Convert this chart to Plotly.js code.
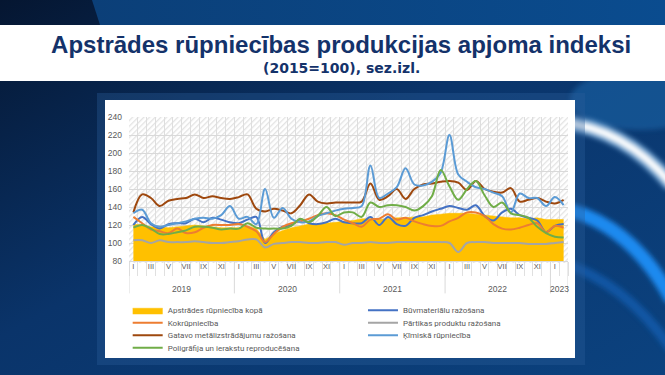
<!DOCTYPE html>
<html>
<head>
<meta charset="utf-8">
<script src="https://cdn.plot.ly/plotly-3.0.1.min.js"></script>
<style>
html, body { margin: 0; padding: 0; width: 665px; height: 375px; overflow: hidden; }
#bg { position: absolute; left: 0; top: 0; }
#chart { position: absolute; left: 0; top: 0; width: 665px; height: 375px; }
</style>
</head>
<body>
<svg id="bg" width="665" height="375" xmlns="http://www.w3.org/2000/svg">
	<defs>
		<linearGradient id="sky" x1="0" y1="0" x2="1" y2="1">
			<stop offset="0" stop-color="#051631"/>
			<stop offset="0.45" stop-color="#0a346a"/>
			<stop offset="1" stop-color="#0b427f"/>
		</linearGradient>
		<linearGradient id="topband" x1="0" y1="0" x2="1" y2="0">
			<stop offset="0" stop-color="#0b3f78"/>
			<stop offset="1" stop-color="#0a4c8f"/>
		</linearGradient>
		<filter id="glow" x="-30%" y="-30%" width="160%" height="160%">
			<feGaussianBlur stdDeviation="2.5"/>
		</filter>
		<pattern id="hatch" width="4" height="4" patternUnits="userSpaceOnUse" patternTransform="rotate(45)">
			<rect width="4" height="4" fill="#ffffff"/>
			<rect width="1.3" height="4" fill="#e3e3e3"/>
		</pattern>
	</defs>
	<rect width="665" height="375" fill="url(#sky)"/>
	<polygon points="92,0 665,0 665,25 100,25" fill="url(#topband)"/>
	<ellipse cx="640" cy="100" rx="70" ry="30" fill="#1f68ab" opacity="0.55" filter="url(#glow)"/>
	<path d="M 560 122 Q 625 128 672 185" stroke="#9fd3ff" stroke-width="16" fill="none" opacity="0.6" filter="url(#glow)"/>
	<path d="M 560 122 Q 625 128 672 185" stroke="#ffffff" stroke-width="8" fill="none" filter="url(#glow)"/>
	<path d="M 560 208 Q 630 222 672 300" stroke="#1e8af0" stroke-width="14" fill="none" filter="url(#glow)"/>
	<path d="M 560 262 Q 625 282 672 350" stroke="#1766c0" stroke-width="10" fill="none" opacity="0.6" filter="url(#glow)"/>
	<rect x="0" y="25" width="665" height="56" fill="#ffffff"/>
	<rect x="97" y="93" width="488" height="272" fill="#2a5f9a" opacity="0.35"/>
	<rect x="105" y="100" width="470" height="258" fill="#ffffff"/>
	<rect x="129" y="117" width="439" height="146" fill="url(#hatch)"/>
</svg>
<div id="chart"></div>
<script>
var years = ["2019", "2020", "2021", "2022", "2023"];
var monthNames = ["I", "II", "III", "IV", "V", "VI", "VII", "VIII", "IX", "X", "XI", "XII"];
var monthsInYear = [12, 12, 12, 12, 2];

var seriesNames = [
	"Apstrādes rūpniecība kopā",
	"Būvmateriālu ražošana",
	"Kokrūpniecība",
	"Pārtikas produktu ražošana",
	"Gatavo metālizstrādājumu ražošana",
	"Ķīmiskā rūpniecība",
	"Poligrāfija un ierakstu reproducēšana",
];

var kopa = [121, 120, 118, 118, 117, 118, 119, 120, 119, 118, 117, 117,
	117, 119, 116, 104, 110, 114, 117, 119, 121, 121, 122, 123,
	124, 125, 127, 127, 126, 127, 128, 128, 129, 129, 131, 132,
	133, 133, 133, 132, 131, 130, 129, 128, 128, 127, 128, 126,
	126, 126];
var buvmat = [120, 129, 121, 116, 121, 122, 122, 127, 123, 128, 126, 123,
	122, 126, 129, 100, 112, 118, 120, 126, 122, 121, 123, 127,
	123, 122, 122, 129, 120, 129, 121, 119, 128, 131, 135, 138,
	141, 139, 137, 142, 130, 125, 134, 138, 131, 128, 125, 112,
	119, 121];
var koks = [129, 122, 115, 113, 111, 116, 111, 112, 117, 120, 120, 120,
	121, 118, 113, 101, 110, 118, 122, 124, 127, 131, 133, 131,
	126, 122, 118, 126, 127, 132, 126, 128, 124, 121, 119, 119,
	124, 128, 134, 134, 130, 121, 116, 115, 117, 120, 122, 112,
	119, 117];
var partikas = [103, 103, 100, 103, 101, 101, 101, 102, 101, 100, 100, 101,
	102, 104, 104, 95, 99, 100, 101, 101, 100, 100, 101, 101,
	98, 100, 100, 101, 100, 100, 101, 101, 101, 101, 101, 101,
	100, 90, 100, 101, 101, 100, 100, 100, 100, 99, 99, 99,
	100, 101];
var metal = [134, 154, 150, 141, 147, 149, 150, 154, 150, 152, 150, 149,
	151, 154, 138, 135, 138, 136, 133, 142, 154, 146, 144, 145,
	145, 145, 146, 166, 148, 152, 160, 149, 160, 165, 166, 168,
	169, 167, 159, 169, 160, 157, 156, 161, 146, 148, 150, 146,
	144, 148];
var kimiska = [133, 137, 122, 118, 120, 122, 124, 127, 128, 127, 131, 141,
	127, 129, 121, 160, 128, 139, 127, 123, 124, 130, 133, 136,
	138, 139, 141, 186, 150, 155, 162, 183, 165, 164, 168, 178,
	220, 176, 168, 162, 160, 156, 152, 134, 155, 150, 150, 141,
	151, 142];
var poligr = [117, 120, 116, 110, 110, 112, 114, 118, 118, 117, 115, 116,
	116, 122, 117, 116, 116, 116, 119, 127, 123, 130, 140, 130,
	134, 134, 129, 145, 140, 142, 142, 140, 136, 141, 152, 181,
	163, 148, 160, 169, 153, 140, 145, 133, 131, 128, 118, 111,
	107, 106];

// category labels "2019 I" ... and the roman numerals shown under the axis
var months = [];
var monthText = [];
years.forEach(function (yr, k) {
	for (var m = 0; m < monthsInYear[k]; m++) {
		months.push(yr + " " + monthNames[m]);
		monthText.push(m % 2 === 0 ? monthNames[m] : "");
	}
});

var colors = ["#FFC000", "#4472C4", "#ED7D31", "#A5A5A5", "#9E480E", "#5B9BD5", "#70AD47"];
var values = [kopa, buvmat, koks, partikas, metal, kimiska, poligr];
var legendIds = ["legend", "legend2", "legend3", "legend4", "legend5", "legend6", "legend7"];

var data = values.map(function (vals, k) {
	var trace = {
		x: months,
		y: vals,
		name: seriesNames[k],
		type: "scatter",
		mode: "lines",
		legend: legendIds[k],
		hoverinfo: "x+y+name",
		line: { color: colors[k], width: 2, shape: "spline", smoothing: 1 },
	};
	if (k === 0) {
		trace.fill = "tozeroy";
		trace.fillcolor = colors[0];
		trace.line = { color: colors[0], width: 0.5 };
	}
	return trace;
});

// year groups under the month labels
var yearCenters = [5.5, 17.5, 29.5, 41.5, 48.5];
var yearBounds = [-0.5, 11.5, 23.5, 35.5, 47.5, 49.5];

var annotations = years.map(function (yr, k) {
	return {
		text: yr, xref: "x", yref: "paper", x: yearCenters[k], y: -0.197,
		showarrow: false, xanchor: "center", yanchor: "middle",
		font: { family: "Liberation Sans, Arial, sans-serif", size: 8.5, color: "#595959" },
	};
});
annotations.push({
	text: "<b>(2015=100), sez.izl.</b>",
	xref: "paper", yref: "paper", x: 0.483, y: 1.342,
	showarrow: false, xanchor: "center", yanchor: "middle",
	font: { family: "DejaVu Sans, sans-serif", size: 14, color: "#14326a" },
});

var shapes = yearBounds.map(function (b) {
	return {
		type: "line", xref: "x", yref: "paper", x0: b, x1: b, y0: 0, y1: -0.225,
		line: { color: "#d9d9d9", width: 1 },
	};
});

var legendFont = { family: "Roboto, Liberation Sans, sans-serif", size: 8, color: "#595959" };
var legendPos = [
	[-0.003, -0.342], [0.533, -0.342],
	[-0.003, -0.429], [0.533, -0.429],
	[-0.003, -0.516], [0.533, -0.516],
	[-0.003, -0.603],
];

var layout = {
	width: 665,
	height: 375,
	margin: { l: 129, r: 97, t: 117, b: 112 },
	paper_bgcolor: "rgba(0,0,0,0)",
	plot_bgcolor: "rgba(0,0,0,0)",
	title: {
		text: "<b>Apstrādes rūpniecības produkcijas apjoma indeksi</b>",
		font: { family: "Liberation Sans, Arial, sans-serif", size: 24, color: "#14326a" },
		x: 0.513, xref: "container", xanchor: "center",
		y: 0.88, yref: "container", yanchor: "middle",
	},
	xaxis: {
		type: "category",
		range: [-0.5, 49.5],
		tickmode: "array",
		tickvals: months,
		ticktext: monthText,
		tickson: "boundaries",
		ticks: "outside",
		ticklen: 14,
		tickcolor: "#e0e0e0",
		ticklabelstandoff: -2,
		showgrid: true,
		gridcolor: "#dedede",
		showline: true,
		linecolor: "#d9d9d9",
		tickangle: 0,
		tickfont: { family: "Liberation Sans, Arial, sans-serif", size: 7.5, color: "#595959" },
		fixedrange: true,
	},
	yaxis: {
		range: [80, 240],
		dtick: 20,
		showgrid: true,
		gridcolor: "#d9d9d9",
		zeroline: false,
		ticks: "",
		ticklabelstandoff: 6,
		tickfont: { family: "Liberation Sans, Arial, sans-serif", size: 8.5, color: "#595959" },
		fixedrange: true,
	},
	showlegend: true,
	annotations: annotations,
	shapes: shapes,
};

legendIds.forEach(function (id, k) {
	layout[id] = {
		x: legendPos[k][0], y: legendPos[k][1],
		xanchor: "left", yanchor: "middle",
		orientation: "h",
		bgcolor: "rgba(0,0,0,0)",
		itemwidth: 30,
		font: legendFont,
	};
});

var config = {
	responsive: false,
	displayModeBar: false,
	displaylogo: false,
	staticPlot: true,
};

Plotly.newPlot("chart", data, layout, config);
</script>
</body>
</html>
